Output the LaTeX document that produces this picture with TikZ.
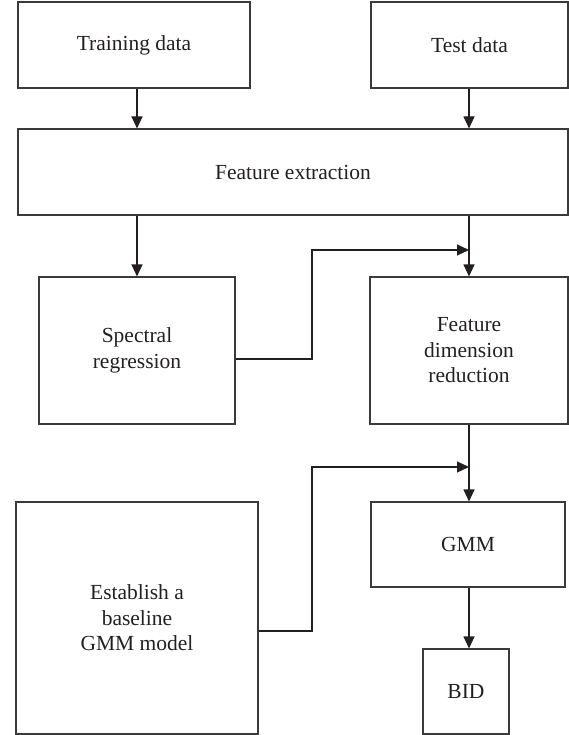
\documentclass[tikz,border=0pt]{standalone}
\usepackage{fontspec}
\setmainfont{Liberation Serif}
\usetikzlibrary{arrows.meta}
\definecolor{linec}{HTML}{3A3A3A}
\definecolor{textc}{HTML}{231F20}
\tikzset{
  box/.style={draw=linec, line width=1.1pt, rectangle, align=center, inner sep=2pt,
    font=\fontsize{21.5}{25.5}\selectfont, text=textc},
  arr/.style={draw=textc, line width=1.1pt, -{Triangle[length=12pt,width=11pt]}},
  conn/.style={draw=textc, line width=1.1pt}
}
\begin{document}
\begin{tikzpicture}[x=1pt,y=1pt]
\useasboundingbox (0,0) rectangle (569,-735);
\node[box, minimum width=232pt, minimum height=86pt] (train) at (134,-45) {Training data};
\node[box, minimum width=197pt, minimum height=86pt] (test) at (469.5,-45) {Test data};
\node[box, minimum width=550pt, minimum height=86pt] (fe) at (293,-172) {Feature extraction};
\node[box, minimum width=196pt, minimum height=147pt] (sr) at (137,-350.5) {Spectral\\regression};
\node[box, minimum width=198pt, minimum height=147pt] (fdr) at (469,-350.5) {Feature\\dimension\\reduction};
\node[box, minimum width=242pt, minimum height=232pt] (est) at (137,-618) {Establish a\\baseline\\GMM model};
\node[box, minimum width=194pt, minimum height=85pt] (gmm) at (468,-544.5) {GMM};
\node[box, minimum width=86pt, minimum height=85pt] (bid) at (466,-691.5) {BID};
\coordinate (k1) at (312,-250);
\coordinate (j1) at (469,-250);
\coordinate (k2) at (312,-467);
\coordinate (j2) at (469,-467);
\draw[arr] (train.south -| sr.north) -- (fe.north -| sr.north);
\draw[arr] (test.south -| fdr.north) -- (fe.north -| fdr.north);
\draw[arr] (fe.south -| sr.north) -- (sr.north);
\draw[arr] (fe.south -| fdr.north) -- (fdr.north);
\draw[arr] ([yshift=-8.5pt]sr.east) -| (k1) -- (j1);
\draw[arr] (fdr.south) -- (fdr.south |- gmm.north);
\draw[arr] ([yshift=-13pt]est.east) -| (k2) -- (j2);
\draw[arr] (gmm.south -| fdr.south) -- (bid.north -| fdr.south);
\end{tikzpicture}
\end{document}
